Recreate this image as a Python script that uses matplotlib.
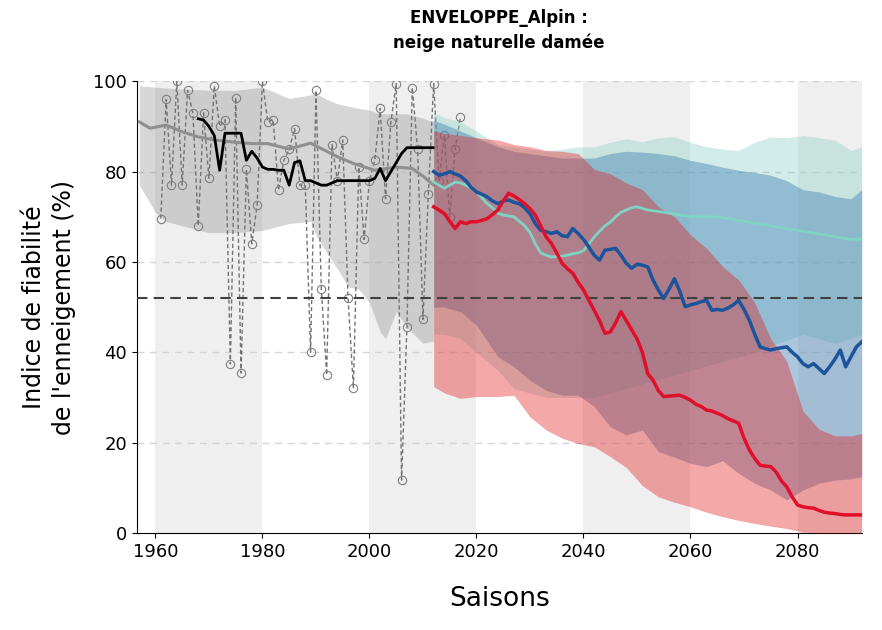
import numpy as np
import matplotlib
matplotlib.use("Agg")
import matplotlib.pyplot as plt

# --- observations (reanalysis) ---
obs_years = list(range(1961, 2018))
obs_vals = [69.6, 96, 77, 100, 77, 98, 93, 68, 93, 78.5,
            99, 90, 91.5, 37.4, 96.4, 35.4, 80.5, 64, 72.6, 100,
            91, 91.5, 75.9, 82.5, 84.9, 89.5, 77, 77, 40, 98,
            54, 35, 86, 78, 87, 52, 32, 81, 65, 78,
            82.5, 94, 74, 91, 99.5, 11.7, 45.5, 98.6, 85, 47.3,
            75, 99.5, 78, 88, 70, 85, 92]

# running index of the observations
run_years = list(range(1968, 2013))
run_vals = [91.7, 91.4, 90, 88, 80.3, 88.5, 88.5, 88.5, 88.5, 82.5,
            84.5, 83, 81, 80.5, 80.5, 80.3, 80.3, 77, 82, 82.4,
            78, 78, 77.5, 77, 77, 77.5, 78, 78, 78, 78,
            78, 78, 78, 78.5, 80.7, 78, 80, 82, 84, 85.3,
            85.3, 85.3, 85.3, 85.3, 85.3]

# historical model envelope
hist_years = [1957, 1960, 1962, 1965, 1970, 1975, 1980, 1985, 1989, 1990,
              1992, 1994, 1996, 1998, 2000, 2002, 2003, 2005, 2007, 2010, 2012]
hist_hi = [99, 98.7, 98.5, 98.3, 98, 98, 98.7, 96.2, 97, 97.3,
           96, 95, 94.5, 94, 93.6, 92.8, 92.8, 92.8, 92.8, 91.8, 91]
hist_lo = [77, 71, 69, 68, 66.5, 66.5, 67, 68.5, 69, 66,
           62, 58.5, 54.5, 54, 51, 44.5, 43, 49, 45.5, 42, 42.5]
hmed_years = [1957, 1959, 1962, 1965, 1968, 1971, 1975, 1978, 1981, 1985,
              1989, 1991, 1994, 1997, 2001, 2005, 2008, 2010, 2012]
hmed_vals = [91, 89.6, 90.3, 88.8, 87.7, 87, 86.5, 86.2, 86.2, 85,
             86.3, 85.1, 83.3, 81.8, 80.3, 81, 80.7, 79, 77]

# projections: envelopes
band_years = [2012, 2014, 2017, 2020, 2024, 2027, 2030, 2033, 2036, 2039,
              2042, 2045, 2048, 2051, 2054, 2057, 2060, 2063, 2066, 2069,
              2072, 2075, 2078, 2081, 2084, 2087, 2090, 2092]
teal_hi = [93, 92, 91, 89, 86, 85.5, 85, 84.5, 85, 85.5,
           85.5, 86.5, 87.3, 86.6, 87.5, 87.7, 86.5, 85.5, 85, 84.7,
           86.5, 87.7, 87.5, 88, 87.5, 87, 84.7, 85.5]
teal_lo = [44, 44, 43, 40, 36, 32, 31, 30, 30, 30,
           30, 31, 32, 33, 34, 35, 36, 37, 38, 39,
           40, 41.5, 42.7, 44, 43, 42, 43, 44]
blue_hi = [91.4, 90.5, 89, 87.5, 85.5, 84.5, 84, 83.5, 83, 83,
           83, 84, 84.5, 84.3, 84, 83.5, 82.5, 81.8, 81, 80.3,
           79.8, 79.2, 78, 76, 75.5, 74.5, 74, 76]
blue_lo = [50, 50, 49, 46, 39, 36.8, 33.8, 31.6, 30.5, 30.5,
           28, 23.5, 21.7, 22.8, 18, 16.8, 15.4, 14.7, 16, 13.2,
           11, 9.5, 7.3, 9.5, 11, 11.7, 12, 12.5]
red_hi = [89, 88.5, 88, 87.5, 87, 86, 85.5, 84.7, 84.5, 84,
          80.5, 79.5, 77.5, 76, 72.2, 70, 66, 63, 59, 56,
          51, 43, 38, 27, 23, 21.5, 21.5, 22]
red_lo = [32.4, 31, 29.8, 30.2, 30.2, 30.5, 25.7, 22.8, 21, 19.8,
          19.1, 16.9, 14.5, 10.5, 8, 6.8, 5.8, 4.6, 3.6, 2.8,
          2.1, 1.5, 1, 0.2, 0, 0, 0, 0]

# projections: medians
proj_years = list(range(2012, 2093))
blue_med = [80, 79.2, 79.5, 80, 79.5, 79, 78, 76.5, 75.5, 75,
            74.4, 73.5, 72.9, 73.5, 73.7, 73.2, 72.9, 72, 70.7, 68.5,
            67, 66.7, 66.3, 66.7, 65.8, 65.6, 67.4, 66.3, 65, 63.3,
            61.5, 60.4, 62.6, 62.8, 63, 61.5, 59.7, 58.6, 59.5, 59.3,
            58.9, 56, 53.8, 51.9, 54, 56.3, 53.5, 50.1, 50.5, 50.8,
            51.2, 51.5, 49.3, 49.5, 49.3, 49.8, 50.5, 51.5, 49.5, 47.1,
            44, 41.2, 40.8, 40.5, 40.8, 41, 41.2, 40, 39, 37.5,
            36.8, 37.5, 36.4, 35.3, 36.8, 38.5, 40.5, 36.8, 39, 41.2, 42.3]
red_med = [72.2, 71.5, 70.7, 69, 67.4, 68.9, 68.5, 68.9, 68.9, 69.2,
           69.6, 70.5, 71.5, 73.5, 75.2, 74.6, 73.8, 72.9, 71.8, 70.4,
           68, 65.6, 64.1, 62, 59.7, 58.5, 57.5, 55.5, 53.8, 51.5,
           49.3, 47, 44.2, 44.5, 46.5, 49, 47, 45, 43, 40,
           35.3, 33.8, 31.5, 30.2, 30.3, 30.4, 30.5, 30, 29.4, 28.5,
           28, 27.2, 27, 26.5, 26, 25.3, 24.8, 24.3, 21, 18.4,
           16.5, 15, 14.8, 14.7, 13.5, 11.5, 10.2, 8, 6.2, 5.8,
           5.6, 5.5, 5, 4.6, 4.4, 4.3, 4.1, 4, 4, 4, 4]
teal_years = list(range(2012, 2051)) + [2052, 2055, 2060, 2065, 2070, 2075, 2080, 2085, 2090, 2092]
teal_med = [77.7, 77, 76.3, 77, 77.7, 77.5, 77, 76.3, 75.5, 74.2,
            72.9, 72, 70.8, 70.4, 70.2, 70, 69, 68, 66.5, 64,
            62, 61.5, 61.1, 61.2, 61.3, 61.5, 61.8, 62, 62.5, 64,
            65.5, 66.8, 68, 68.8, 70, 71, 71.5, 72, 72.2,
            71.5, 71, 70, 70, 69, 68, 67, 66, 65, 65]

threshold = 52
shade_spans = [(1960, 1980), (2000, 2020), (2040, 2060), (2080, 2100)]

fig, ax = plt.subplots(figsize=(8.82, 6.3), dpi=100)
fig.subplots_adjust(left=0.155, right=0.977, bottom=0.154, top=0.871)

for a, b in shade_spans:
    ax.axvspan(a, b, color="#efefef", lw=0, zorder=0)
for yv in [20, 40, 60, 80, 100]:
    ax.axhline(yv, color="#d5d5d5", lw=1, ls=(0, (5, 4)), zorder=0.5)

ax.fill_between(hist_years, hist_lo, hist_hi, color="0.6", alpha=0.4, lw=0, zorder=1)
ax.plot(obs_years, obs_vals, ls=(0, (3, 2)), color="0.45", lw=1,
        marker="o", ms=6, mfc="none", mec="0.5", mew=0.8, zorder=2)
ax.plot(hmed_years, hmed_vals, color="#8f8f8f", lw=2.2, zorder=3)
ax.plot(run_years, run_vals, color="black", lw=2, zorder=4)

ax.fill_between(band_years, teal_lo, teal_hi, color="#80cdc1", alpha=0.35, lw=0, zorder=5)
ax.fill_between(band_years, blue_lo, blue_hi, color="#4682b4", alpha=0.45, lw=0, zorder=6)
ax.fill_between(band_years, red_lo, red_hi, color="#e41a1c", alpha=0.38, lw=0, zorder=7)

ax.axhline(threshold, color="0.25", lw=1.5, ls=(0, (5, 3)), zorder=8)

ax.plot(teal_years, teal_med, color="#7fd3c3", lw=2, zorder=9)
ax.plot(proj_years, blue_med, color="#1c549c", lw=2.5, zorder=10)
ax.plot(proj_years, red_med, color="#e0102a", lw=2.5, zorder=11)

ax.set_xlim(1956.5, 2092)
ax.set_ylim(0, 100)
ax.set_xticks([1960, 1980, 2000, 2020, 2040, 2060, 2080])
ax.set_yticks([0, 20, 40, 60, 80, 100])
ax.tick_params(labelsize=13)
for s in ["top", "right"]:
    ax.spines[s].set_visible(False)

ax.set_title("ENVELOPPE_Alpin :\nneige naturelle damée", fontsize=12,
             fontweight="bold", pad=24, linespacing=1.45)
ax.set_ylabel("Indice de fiabilité\nde l'enneigement (%)", fontsize=17,
              labelpad=12, linespacing=1.35)
ax.set_xlabel("Saisons", fontsize=19, labelpad=18)

fig.savefig("out.png", dpi=100)
